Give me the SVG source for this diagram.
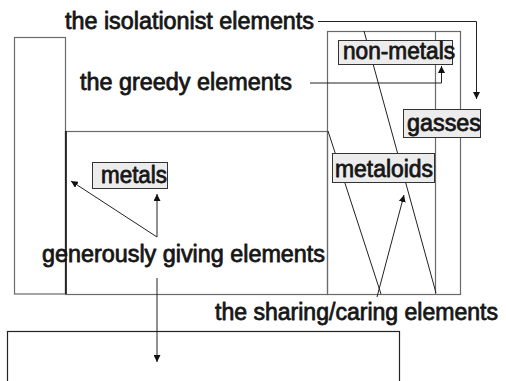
<svg xmlns="http://www.w3.org/2000/svg" width="506" height="381" viewBox="0 0 506 381">
<defs>
<style>
.t{font-family:"Liberation Sans",Arial,sans-serif;font-size:23.5px;fill:#161616;stroke:#161616;stroke-width:0.8;stroke-linejoin:round}
.region{fill:none;stroke:#6a6a6a;stroke-width:1.2}
.box{fill:#ececec;stroke:#333;stroke-width:1}
.c{fill:none;stroke:#222;stroke-width:1}
</style>
<marker id="ah" viewBox="0 0 10 10" refX="10" refY="5" markerWidth="7" markerHeight="7" markerUnits="userSpaceOnUse" orient="auto">
<path d="M0,0 L10,5 L0,10 z" fill="#111"/>
</marker>
</defs>
<rect width="506" height="381" fill="#fff"/>
<g id="regions">
<rect id="left-strip" class="region" x="14.5" y="37.5" width="51" height="256.5"/>
<rect id="metals-region" class="region" x="65.5" y="131.5" width="262" height="163"/>
<line x1="66" y1="131" x2="66" y2="294" stroke="#111" stroke-width="1.6"/>
<rect id="right-region" class="region" x="327.5" y="31.5" width="133" height="263"/>
<line x1="435.5" y1="31.5" x2="435.5" y2="294.5" stroke="#6a6a6a" stroke-width="1.2"/>
<rect id="bottom-region" x="7.5" y="331.5" width="392" height="60" fill="none" stroke="#222" stroke-width="1.2"/>
</g>
<g id="connectors">
<polyline class="c" points="318,21.5 476.5,21.5 476.5,99" marker-end="url(#ah)"/>
<polyline class="c" points="310,83 441.5,83 441.5,66" marker-end="url(#ah)"/>
<line class="c" x1="364" y1="31" x2="436" y2="293"/>
<line class="c" x1="328" y1="131" x2="381" y2="294"/>
<line class="c" x1="377" y1="297" x2="404" y2="195" marker-end="url(#ah)"/>
<line class="c" x1="157" y1="237" x2="71" y2="181" marker-end="url(#ah)"/>
<line class="c" x1="157" y1="237" x2="157" y2="194" marker-end="url(#ah)"/>
<line class="c" x1="157" y1="278" x2="157" y2="362" stroke="#555" marker-end="url(#ah)"/>
</g>
<g id="label-isolationist"><text class="t" x="65" y="29" textLength="249" lengthAdjust="spacingAndGlyphs">the isolationist elements</text></g>
<g id="label-greedy"><text class="t" x="80" y="90" textLength="212" lengthAdjust="spacingAndGlyphs">the greedy elements</text></g>
<g id="label-generous"><text class="t" x="42" y="262" textLength="283" lengthAdjust="spacingAndGlyphs">generously giving elements</text></g>
<g id="label-sharing"><text class="t" x="215" y="320" textLength="283" lengthAdjust="spacingAndGlyphs">the sharing/caring elements</text></g>
<g id="node-nonmetals"><rect class="box" x="338.5" y="40.5" width="114" height="24"/><text class="t" x="343" y="58.5" textLength="112" lengthAdjust="spacingAndGlyphs">non-metals</text></g>
<g id="node-gasses"><rect class="box" x="403.5" y="109.5" width="77" height="28"/><text class="t" x="407" y="131" textLength="74" lengthAdjust="spacingAndGlyphs">gasses</text></g>
<g id="node-metals"><rect class="box" x="92.5" y="162.5" width="75" height="26"/><text class="t" x="101" y="183" textLength="66" lengthAdjust="spacingAndGlyphs">metals</text></g>
<g id="node-metaloids"><rect class="box" x="332.5" y="153.5" width="102" height="29"/><text class="t" x="335" y="176.5" textLength="98" lengthAdjust="spacingAndGlyphs">metaloids</text></g>
</svg>
